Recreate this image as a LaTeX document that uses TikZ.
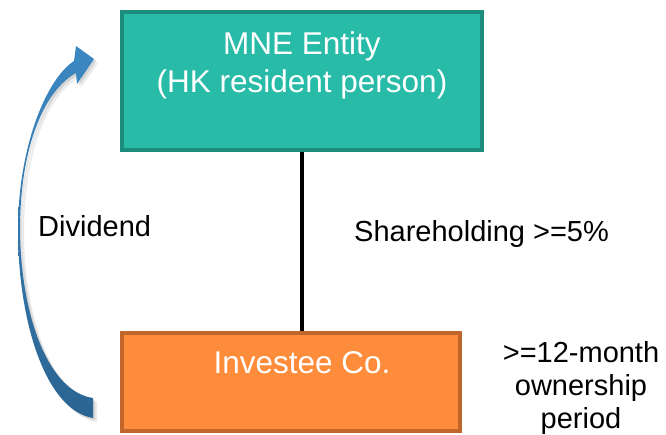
\documentclass[tikz,border=0pt]{standalone}
\usepackage{fontspec}
\setmainfont{Liberation Sans}
\usetikzlibrary{positioning}

\definecolor{mnefill}{HTML}{27BBA8}
\definecolor{mneedge}{HTML}{1C8C7C}
\definecolor{invfill}{HTML}{FF8C3B}
\definecolor{invedge}{HTML}{C0662B}
\definecolor{arrtop}{HTML}{3C88C2}
\definecolor{arrbot}{HTML}{2A6492}

% outline of the curved dividend arrow (tail at the bottom, head at the top)
\newcommand{\divpath}{(93,398) .. controls (50,392) and (21,320) .. (20,230)
  .. controls (20,145) and (45,90) .. (76,73) -- (77,84) -- (94,59)
  -- (76,46) -- (74,61) .. controls (45,80) and (18,150) .. (18,230)
  .. controls (18,320) and (45,410) .. (93,418) -- cycle}

\tikzset{
  box/.style={line width=4pt, minimum width=360pt, minimum height=138pt,
    inner sep=0pt, text=white, align=center,
    font=\fontsize{31.5}{38}\selectfont},
  lbl/.style={inner sep=0pt, font=\fontsize{29}{33}\selectfont},
  link/.style={line width=4pt, black}
}

\begin{document}
\begin{tikzpicture}[x=1pt, y=-1pt]
  \useasboundingbox (0,0) rectangle (666,435);

  % the two entities
  \node[box, draw=mneedge, fill=mnefill] (mne) at (302,81)
    {MNE Entity\\(HK resident person)\\\mbox{}};
  \node[box, draw=invedge, fill=invfill, minimum width=338pt,
    minimum height=98pt] (inv) at (291,382)
    {\hspace*{22pt}Investee Co.\\\mbox{}};

  \draw[link] (mne.south) -- (mne.south |- inv.north);

  % dividend arrow with a soft shadow
  \fill[black, opacity=0.08, shift={(4,4)}] \divpath;
  \fill[black, opacity=0.10, shift={(2,2)}] \divpath;
  \shade[top color=arrtop, bottom color=arrbot] \divpath;

  % labels
  \node[lbl, anchor=base west] (div) at (38,237) {Dividend};
  \node[lbl, anchor=base west] (share) at (354,242) {Shareholding >=5\%};
  \node[lbl, anchor=north, align=center] (period) at (581,341)
    {>=12-month\\ownership\\period};
\end{tikzpicture}
\end{document}
